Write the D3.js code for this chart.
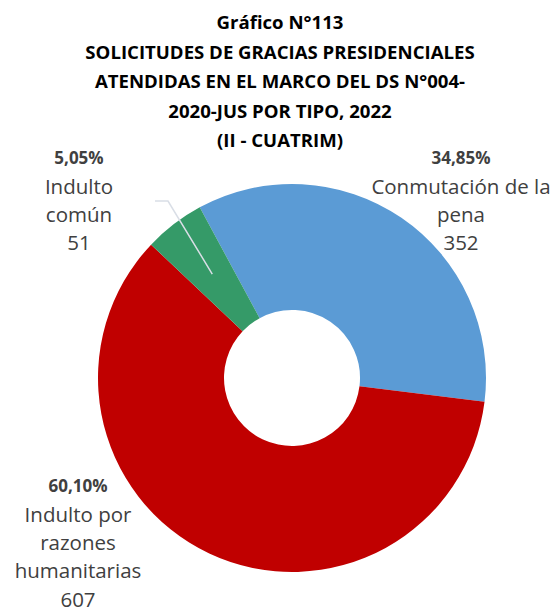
<!DOCTYPE html>
<html><head><meta charset="utf-8">
<script src="https://cdn.jsdelivr.net/npm/d3@7"></script>
<style>body{margin:0;background:#fff}svg{display:block}</style>
</head><body>
<script>
const titleLines = ["Gráfico N°113","SOLICITUDES DE GRACIAS PRESIDENCIALES","ATENDIDAS EN EL MARCO DEL DS N°004-","2020-JUS POR TIPO, 2022","(II - CUATRIM)"];
const categories = ["Conmutación de la pena","Indulto por razones humanitarias","Indulto común"];
const values = [352, 607, 51];
const percents = ["34,85%","60,10%","5,05%"];
const labelLines = [["Conmutación de la","pena","352"],["Indulto por","razones","humanitarias","607"],["Indulto","común","51"]];
const colors = ["#5B9BD5","#C00000","#359A68"];

const W=556,H=614;
const svg=d3.select("body").append("svg").attr("width",W).attr("height",H);
const font="'Open Sans', sans-serif";

// title
svg.append("g").selectAll("text").data(titleLines).join("text")
  .attr("x",280).attr("y",(d,i)=>29+i*29.5)
  .attr("text-anchor","middle").attr("font-family",font).attr("font-weight","bold")
  .attr("font-size",18.6).attr("fill","#000").text(d=>d);

const cx=292, cy=378, rOuter=194, rInner=68;
const start=-28.4*Math.PI/180;
const pie=d3.pie().sort(null).value(d=>d).startAngle(start).endAngle(start+2*Math.PI);
const arcs=pie(values);
const arc=d3.arc().innerRadius(rInner).outerRadius(rOuter);
const g=svg.append("g").attr("transform",`translate(${cx},${cy})`);
g.selectAll("path").data(arcs).join("path").attr("d",arc).attr("fill",(d,i)=>colors[i]);

// leader line for small slice
const c=arc.centroid(arcs[2]);
svg.append("polyline")
  .attr("points",[[155,201],[168,201],[cx+c[0],cy+c[1]]].map(p=>p.join(",")).join(" "))
  .attr("fill","none").attr("stroke","#D9DEE6").attr("stroke-width",1.5);

// labels
const labelPos=[{x:461,y:164},{x:78,y:492},{x:79,y:164}];
labelPos.forEach((p,i)=>{
  const t=svg.append("text").attr("text-anchor","middle").attr("font-family",font).attr("fill","#404040");
  t.append("tspan").attr("x",p.x).attr("y",p.y).attr("font-weight","bold").attr("font-size",17).text(percents[i]);
  labelLines[i].forEach((l,j)=>{
    t.append("tspan").attr("x",p.x).attr("y",p.y+29.5+j*28.4).attr("font-size",20.5).text(l);
  });
});
</script>
</body></html>
